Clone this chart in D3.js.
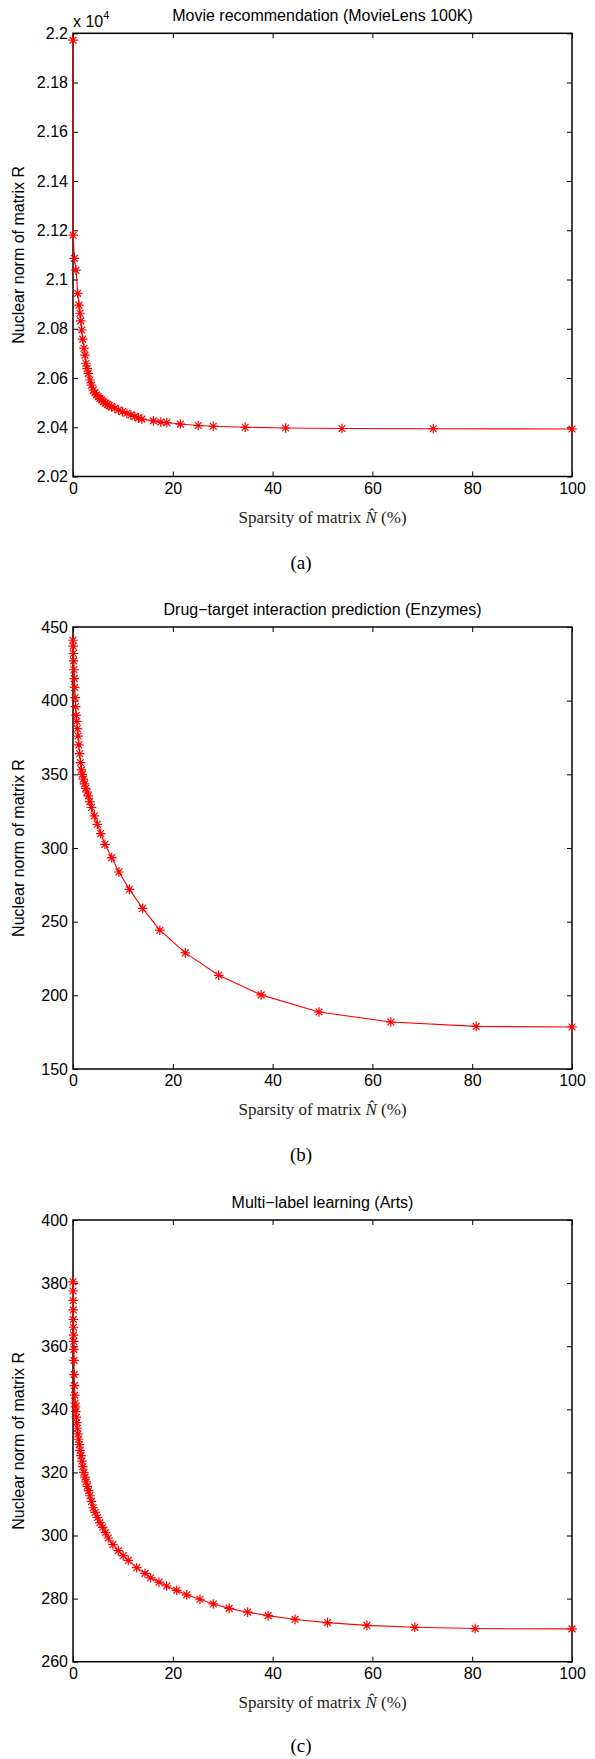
<!DOCTYPE html>
<html>
<head>
<meta charset="utf-8">
<script src="https://cdn.jsdelivr.net/npm/d3@7"></script>
<style>
  body { margin: 0; background: #fff; }
  svg { display: block; }
</style>
</head>
<body>
<div id="chart"></div>
<script>
// x values are the sparsity of N-hat (%), y values the nuclear norm of R
const xTicks = [0, 20, 40, 60, 80, 100];

// (a) MovieLens 100K
const sparsityA = [0, 0.03, 0.27, 0.6, 0.94, 1.2, 1.4, 1.55, 1.75, 1.94, 2.2, 2.4, 2.6, 2.85, 3.07, 3.4, 3.7, 4.07, 4.4, 4.7, 5.05, 5.4, 5.75, 6.1, 6.5, 6.9, 7.3, 7.7, 8.4, 9.1, 9.9, 10.8, 11.6, 12.4, 13.1, 13.8, 16.1, 17.6, 18.8, 21.5, 25.1, 28.1, 34.5, 42.6, 53.9, 72.2, 100];
const normA = [2.1972, 2.118, 2.1086, 2.1038, 2.0944, 2.0896, 2.0863, 2.0832, 2.0795, 2.0758, 2.0721, 2.0693, 2.066, 2.0638, 2.0619, 2.0592, 2.0571, 2.0551, 2.054, 2.0531, 2.0524, 2.0517, 2.0511, 2.0504, 2.0498, 2.0493, 2.0488, 2.0484, 2.0477, 2.047, 2.0463, 2.0457, 2.045, 2.0444, 2.0438, 2.0433, 2.0426, 2.0421, 2.0419, 2.0413, 2.0407, 2.0404, 2.04, 2.0397, 2.0395, 2.0394, 2.0393].map(v => v * 1e4);
const yTicksA = [2.02, 2.04, 2.06, 2.08, 2.1, 2.12, 2.14, 2.16, 2.18, 2.2];

// (b) Enzymes
const sparsityB = [0, 0.03, 0.07, 0.12, 0.18, 0.25, 0.33, 0.42, 0.52, 0.63, 0.75, 0.88, 1.02, 1.17, 1.33, 1.5, 1.68, 1.87, 2.07, 2.3, 2.55, 2.8, 3.07, 3.37, 3.7, 4.27, 4.87, 5.55, 6.4, 7.75, 9.2, 11.3, 13.95, 17.4, 22.5, 29.2, 37.7, 49.3, 63.7, 80.8, 100];
const normB = [441, 437, 432, 427, 421, 415, 409, 402, 396, 390, 386, 381, 376, 370, 364, 358, 353, 350, 346.7, 343.5, 340.5, 338, 335.4, 331.5, 327.5, 321.8, 316.1, 309.8, 302.5, 293.5, 283.7, 271.9, 259, 244.2, 228.8, 213.6, 200.3, 188.7, 181.9, 178.9, 178.5];
const yTicksB = [150, 200, 250, 300, 350, 400, 450];

// (c) Arts
const sparsityC = [0, 0.02, 0.04, 0.06, 0.08, 0.1, 0.12, 0.14, 0.17, 0.2, 0.24, 0.29, 0.35, 0.42, 0.5, 0.57, 0.66, 0.76, 0.87, 0.99, 1.12, 1.27, 1.43, 1.6, 1.78, 1.97, 2.18, 2.4, 2.63, 2.87, 3.12, 3.4, 3.7, 4.05, 4.45, 4.9, 5.4, 5.95, 6.5, 7.07, 8.0, 9.08, 10.05, 11.08, 12.76, 14.43, 15.57, 17.23, 18.77, 20.78, 22.78, 25.45, 28.12, 31.3, 35.0, 39.1, 44.5, 51.0, 58.9, 68.5, 80.6, 100];
const normC = [380.4, 377.5, 374.5, 371.5, 368.5, 366, 363.5, 361.5, 359, 355.5, 351, 347.5, 344.5, 342, 340.8, 339.3, 337.5, 335.8, 334, 332.2, 330.5, 328.8, 327, 325.3, 323.6, 321.8, 320, 318.5, 317, 315.6, 314.2, 312.6, 310.8, 308.8, 307.3, 305.7, 304.1, 302.6, 300.9, 299.2, 297.1, 295.2, 293.6, 292.1, 289.8, 288, 286.6, 285.2, 284, 282.6, 281.2, 279.8, 278.3, 276.9, 275.7, 274.6, 273.4, 272.4, 271.5, 270.9, 270.5, 270.4];
const yTicksC = [260, 280, 300, 320, 340, 360, 380, 400];

const width = 595, height = 1759;
const left = 73, right = 572;

const panels = [
  { title: "Movie recommendation (MovieLens 100K)", xs: sparsityA, ys: normA,
    ticks: yTicksA.map(v => v * 1e4), fmt: v => d3.format("~g")(v / 1e4), exponent: true,
    top: 33.3, bottom: 476.5, tag: "(a)", tagY: 563 },
  { title: "Drug\u2212target interaction prediction (Enzymes)", xs: sparsityB, ys: normB,
    ticks: yTicksB, fmt: d3.format("d"), exponent: false,
    top: 627, bottom: 1069, tag: "(b)", tagY: 1155 },
  { title: "Multi\u2212label learning (Arts)", xs: sparsityC, ys: normC,
    ticks: yTicksC, fmt: d3.format("d"), exponent: false,
    top: 1220, bottom: 1661.7, tag: "(c)", tagY: 1746 }
];

const svg = d3.select("#chart").append("svg")
  .attr("width", width)
  .attr("height", height)
  .attr("viewBox", `0 0 ${width} ${height}`);

const sans = "'Liberation Sans', Arial, Helvetica, sans-serif";
const serif = "'Liberation Serif', 'Times New Roman', serif";

// MATLAB style '*' marker
const star = "M-4.8,0H4.8M0,-4.8V4.8M-3.4,-3.4L3.4,3.4M-3.4,3.4L3.4,-3.4";

panels.forEach((p) => {
  const x = d3.scaleLinear().domain([0, 100]).range([left, right]);
  const y = d3.scaleLinear().domain(d3.extent(p.ticks)).range([p.bottom, p.top]);
  const g = svg.append("g");

  // axes, ticks point inwards on all four sides
  const axL = g.append("g").attr("transform", `translate(${left},0)`)
    .call(d3.axisLeft(y).tickValues(p.ticks).tickFormat(p.fmt).tickSizeInner(-5).tickSizeOuter(0).tickPadding(5));
  const axR = g.append("g").attr("transform", `translate(${right},0)`)
    .call(d3.axisRight(y).tickValues(p.ticks).tickFormat("").tickSizeInner(-5).tickSizeOuter(0));
  const axB = g.append("g").attr("transform", `translate(0,${p.bottom})`)
    .call(d3.axisBottom(x).tickValues(xTicks).tickFormat(d3.format("d")).tickSizeInner(-5).tickSizeOuter(0).tickPadding(6));
  const axT = g.append("g").attr("transform", `translate(0,${p.top})`)
    .call(d3.axisTop(x).tickValues(xTicks).tickFormat("").tickSizeInner(-5).tickSizeOuter(0));

  [axL, axR, axB, axT].forEach(a => {
    a.select(".domain").remove();
    a.selectAll("line").attr("stroke", "#000").attr("stroke-width", 1);
    a.selectAll("text").attr("font-family", sans).attr("font-size", "16px").attr("fill", "#000");
  });

  g.append("rect")
    .attr("x", left).attr("y", p.top)
    .attr("width", right - left).attr("height", p.bottom - p.top)
    .attr("fill", "none").attr("stroke", "#000").attr("stroke-width", 1.5);

  const pts = p.xs.map((v, i) => [v, p.ys[i]]);

  g.append("path")
    .datum(pts)
    .attr("fill", "none")
    .attr("stroke", "#ff0000")
    .attr("stroke-width", 1.1)
    .attr("d", d3.line().x(d => x(d[0])).y(d => y(d[1])));

  g.selectAll(".mark")
    .data(pts)
    .enter()
    .append("path")
    .attr("class", "mark")
    .attr("transform", d => `translate(${x(d[0])},${y(d[1])})`)
    .attr("d", star)
    .attr("stroke", "#ff0000")
    .attr("stroke-width", 1.2)
    .attr("fill", "none");

  // title
  g.append("text")
    .attr("x", (left + right) / 2)
    .attr("y", p.top - 12)
    .attr("text-anchor", "middle")
    .attr("font-family", sans)
    .attr("font-size", "16px")
    .text(p.title);

  // y label
  g.append("text")
    .attr("transform", `translate(24,${(p.top + p.bottom) / 2}) rotate(-90)`)
    .attr("text-anchor", "middle")
    .attr("font-family", sans)
    .attr("font-size", "16px")
    .text("Nuclear norm of matrix R");

  // x label
  const xl = g.append("text")
    .attr("x", (left + right) / 2)
    .attr("y", p.bottom + 46)
    .attr("text-anchor", "middle")
    .attr("font-family", serif)
    .attr("font-size", "17px")
    .attr("fill", "#222");
  xl.append("tspan").text("Sparsity of matrix ");
  xl.append("tspan").attr("font-style", "italic").text("N\u0302");
  xl.append("tspan").text(" (%)");

  if (p.exponent) {
    const ex = g.append("text")
      .attr("x", left)
      .attr("y", p.top - 6)
      .attr("font-family", sans)
      .attr("font-size", "16px");
    ex.append("tspan").text("x 10");
    ex.append("tspan").attr("dy", -8).attr("font-size", "11px").text("4");
  }

  // panel tag
  svg.append("text")
    .attr("x", 301)
    .attr("y", p.tagY + 6)
    .attr("text-anchor", "middle")
    .attr("font-family", serif)
    .attr("font-size", "19px")
    .text(p.tag);
});
</script>
</body>
</html>
